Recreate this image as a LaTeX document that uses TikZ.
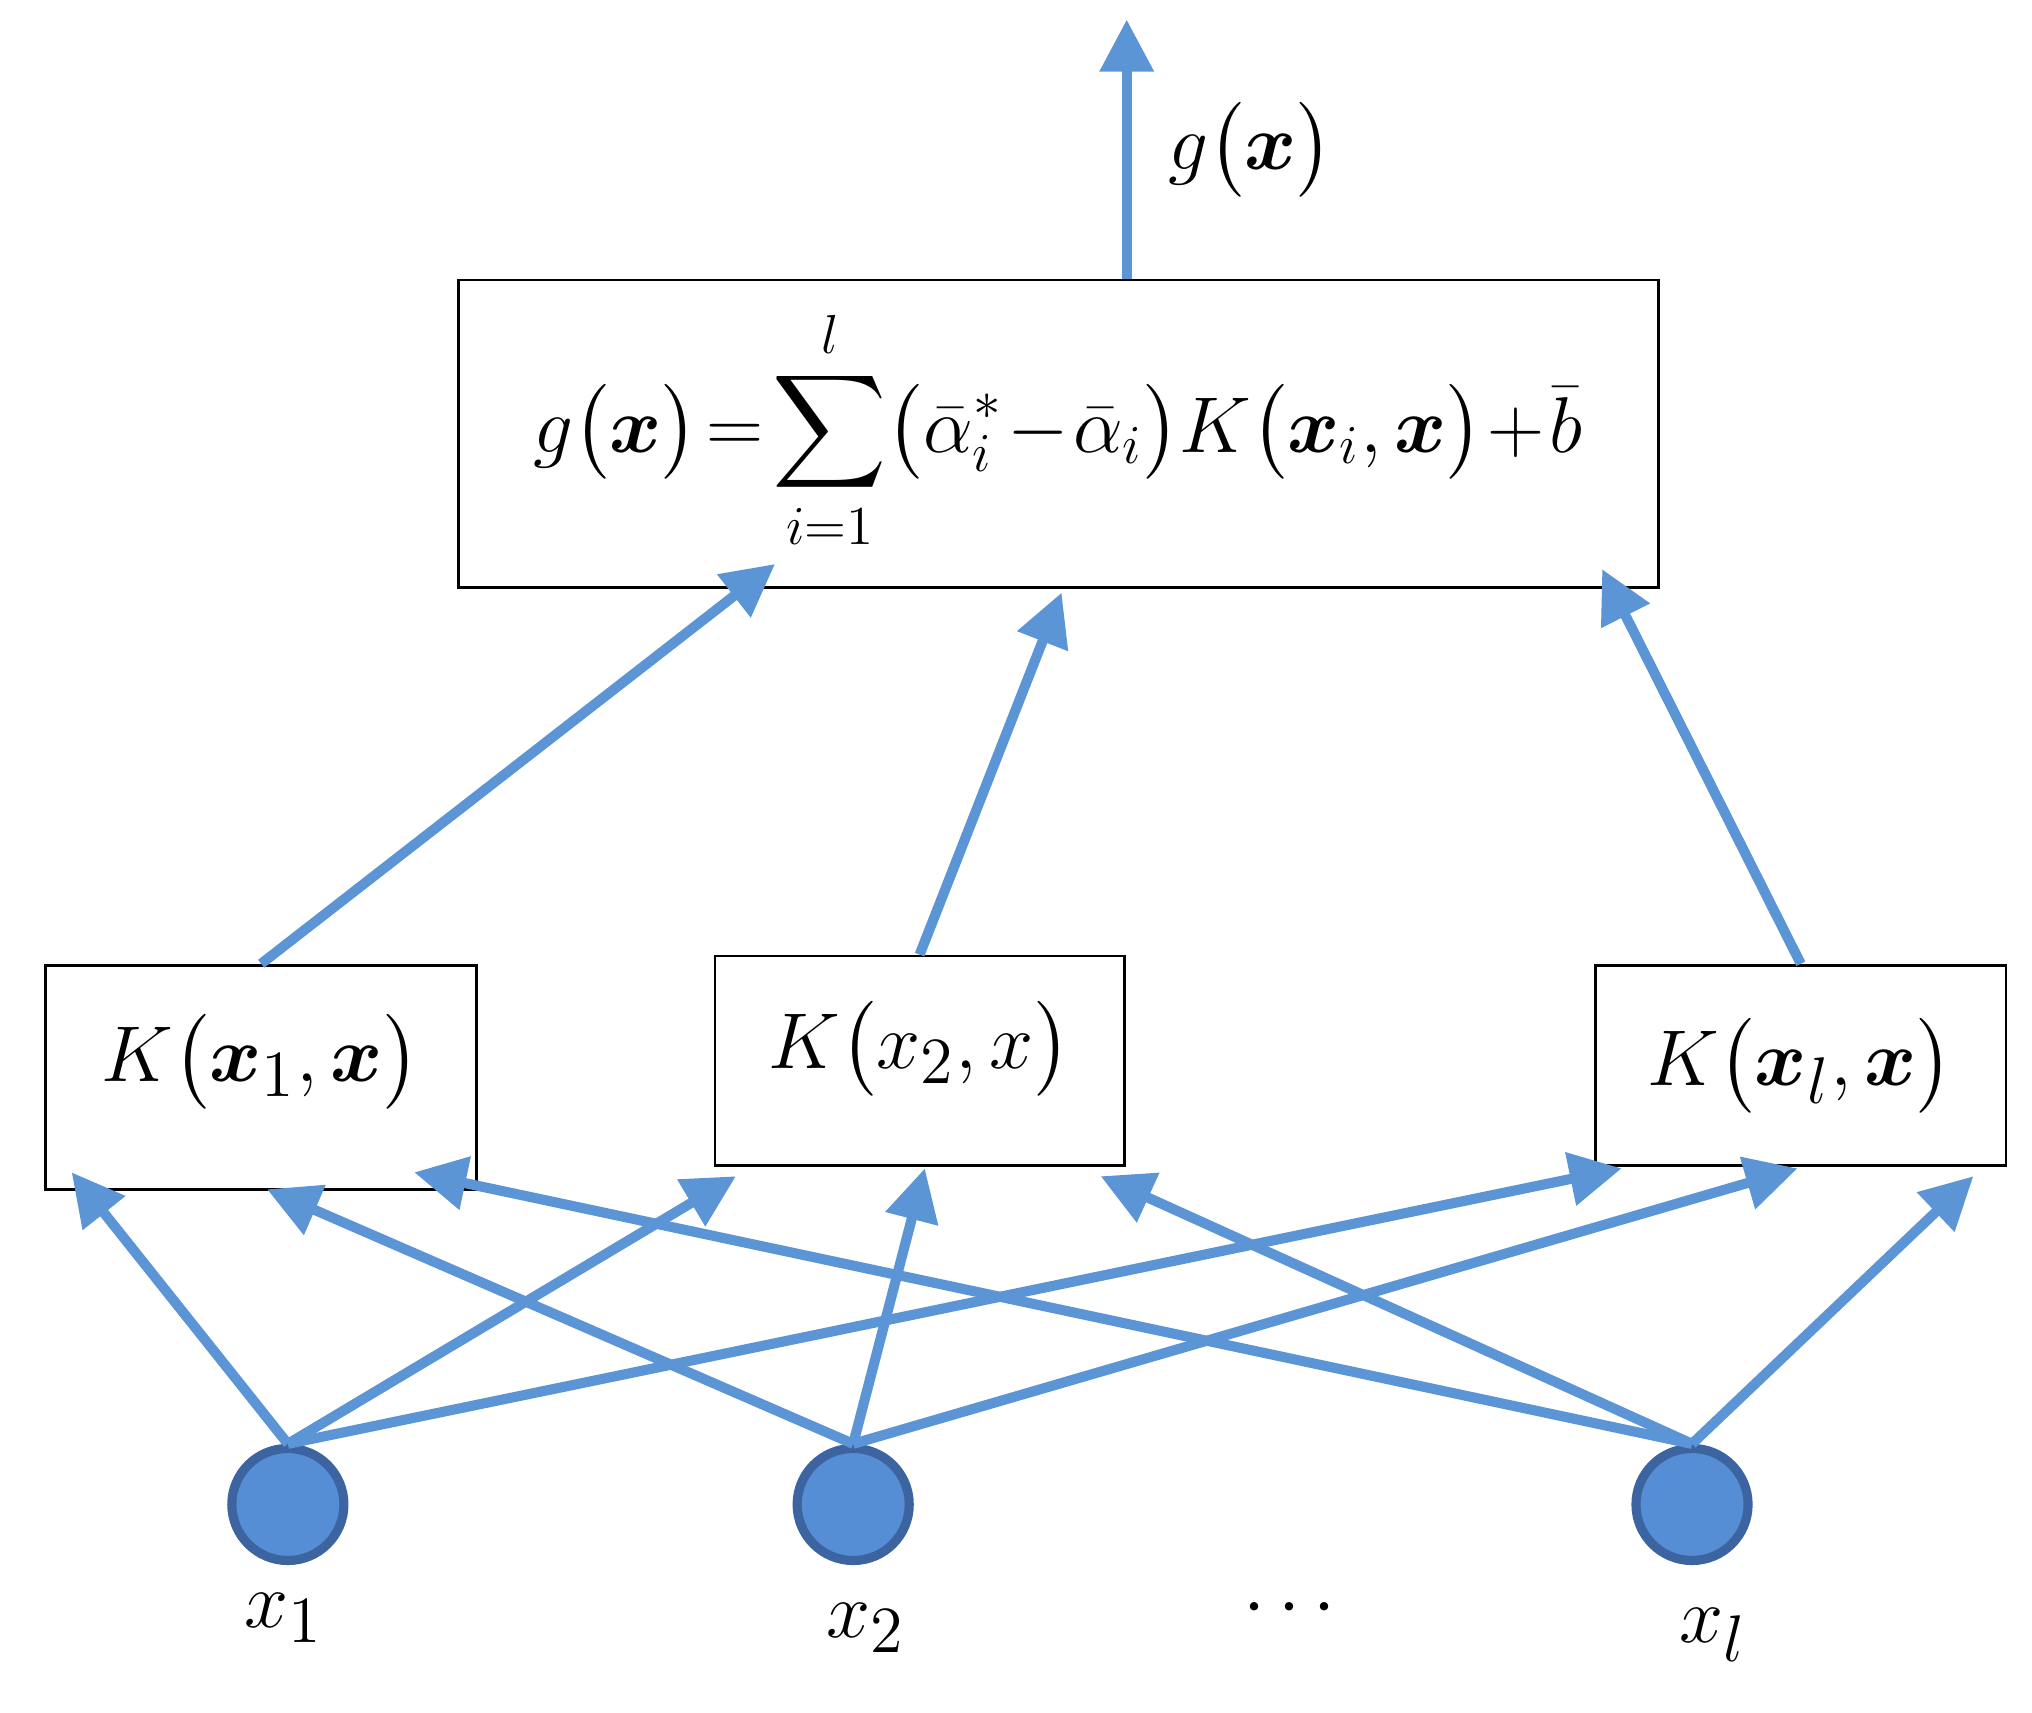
\documentclass[tikz,border=0pt]{standalone}
\usetikzlibrary{arrows.meta}
\usepackage{amsmath,bm}
\definecolor{ln}{RGB}{91,149,213}
\definecolor{cf}{RGB}{85,142,213}
\definecolor{cb}{RGB}{60,100,160}
\begin{document}
\begin{tikzpicture}[x=0.01cm,y=-0.01cm,
 conn/.style={draw=ln,line width=2.2pt,-{Triangle[length=0.4cm,width=0.4cm]}},
 box/.style={draw,line width=0.6pt,inner sep=0pt},
 neuron/.style={circle,fill=cf,draw=cb,line width=2pt,minimum size=0.86cm,inner sep=0pt},
 lab/.style={font=\fontsize{19}{23}\selectfont},
 flab/.style={font=\fontsize{17.5}{21}\selectfont}]
\useasboundingbox (0,0) rectangle (1560,1315);
\node[box,minimum width=9.21cm,minimum height=2.36cm] (top) at (812.5,333) {};
\node[flab] (f) at (812,330) {$g\big(\bm{x}\big)\!=\!\displaystyle\sum_{i=1}^{l}\!\big(\bar\alpha_i^{*}\!-\!\bar\alpha_i\big)K\big(\bm{x}_i,\bm{x}\big)\!+\!\bar b$};
\node[box,minimum width=3.31cm,minimum height=1.72cm] (k1) at (200.5,827) {};
\node[box,minimum width=3.14cm,minimum height=1.61cm] (k2) at (706,814.5) {};
\node[box,minimum width=3.15cm,minimum height=1.54cm] (kl) at (1382.5,818) {};
\node[lab] at (200,815) {$K\big(\bm{x}_1,\bm{x}\big)$};
\node[lab] at (706,805) {$K\big(x_2,x\big)$};
\node[lab] at (1382,818) {$K\big(\bm{x}_l,\bm{x}\big)$};
\node[neuron] (c1) at (221,1155) {};
\node[neuron] (c2) at (655,1155) {};
\node[neuron] (cl) at (1299,1155) {};
\node[lab] at (218,1242) {$x_1$};
\node[lab] at (665,1250) {$x_2$};
\node[lab] at (995,1235) {$\cdots$};
\node[lab] at (1315,1255) {$x_l$};
\coordinate (out) at (865,15);
\node[lab] at (960,115) {$g\big(\bm{x}\big)$};
\draw[conn] (top.north -| out) -- (out);
\coordinate (t1) at (595,433); \coordinate (t2) at (815,455); \coordinate (t3) at (1230,437);
\draw[conn] (k1.north) -- (t1);
\draw[conn] (k2.north) -- (t2);
\draw[conn] (kl.north) -- (t3);
\coordinate (a11) at (55,900); \coordinate (a12) at (565,903); \coordinate (a13) at (1245,897);
\coordinate (a21) at (205,913); \coordinate (a22) at (710,897); \coordinate (a23) at (1380,897);
\coordinate (a31) at (318,900); \coordinate (a32) at (845,903); \coordinate (a33) at (1515,903);
\foreach \t in {a11,a12,a13} \draw[conn] (c1.north) -- (\t);
\foreach \t in {a21,a22,a23} \draw[conn] (c2.north) -- (\t);
\foreach \t in {a31,a32,a33} \draw[conn] (cl.north) -- (\t);
\end{tikzpicture}
\end{document}
